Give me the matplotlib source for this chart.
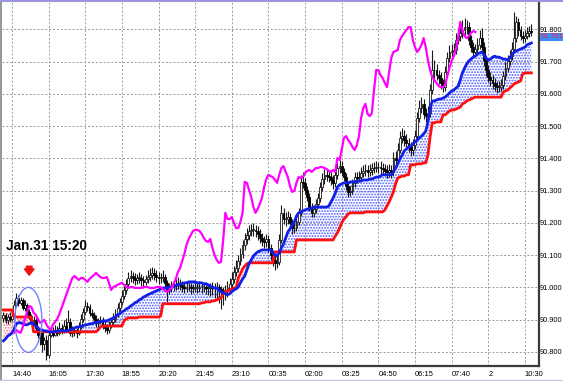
import numpy as np
import matplotlib
matplotlib.use("Agg")
import matplotlib.pyplot as plt
from matplotlib.patches import Ellipse
from matplotlib.lines import Line2D

# 5-minute bars, bar 0 = Jan.31 14:40
bars = np.arange(-4, 242)

opens = [
    90.905, 90.915, 90.899, 90.908, 90.902, 90.911, 90.946, 90.967, 90.952, 90.961,
    90.936, 90.946, 90.924, 90.911, 90.893, 90.899, 90.874, 90.853, 90.862, 90.825,
    90.837, 90.791, 90.853, 90.862, 90.853, 90.868, 90.859, 90.874, 90.865, 90.880,
    90.868, 90.893, 90.859, 90.868, 90.862, 90.859, 90.877, 90.902, 90.924, 90.942,
    90.939, 90.921, 90.915, 90.902, 90.890, 90.893, 90.899, 90.884, 90.874, 90.868,
    90.884, 90.893, 90.902, 90.918, 90.936, 90.955, 90.973, 90.992, 91.011, 91.029,
    91.035, 91.029, 91.023, 91.029, 91.029, 91.023, 91.017, 91.026, 91.032, 91.038,
    91.045, 91.038, 91.032, 91.029, 91.029, 91.032, 91.014, 90.992, 91.001, 91.004,
    91.008, 91.011, 91.014, 91.008, 91.001, 90.998, 91.001, 91.001, 90.998, 90.998,
    90.998, 90.998, 91.001, 91.001, 91.001, 90.998, 90.998, 90.998, 91.001, 91.001,
    91.001, 90.995, 90.989, 90.986, 90.992, 90.998, 91.011, 91.026, 91.048, 91.060,
    91.082, 91.104, 91.132, 91.150, 91.163, 91.175, 91.178, 91.178, 91.175, 91.166,
    91.153, 91.144, 91.141, 91.150, 91.122, 91.100, 91.085, 91.076, 91.079, 91.147,
    91.231, 91.212, 91.212, 91.218, 91.200, 91.184, 91.184, 91.203, 91.231, 91.327,
    91.324, 91.302, 91.280, 91.249, 91.231, 91.243, 91.259, 91.277, 91.311, 91.336,
    91.349, 91.345, 91.342, 91.333, 91.324, 91.349, 91.370, 91.376, 91.358, 91.342,
    91.314, 91.296, 91.299, 91.324, 91.342, 91.339, 91.342, 91.355, 91.361, 91.364,
    91.358, 91.364, 91.370, 91.370, 91.373, 91.373, 91.370, 91.367, 91.361, 91.358,
    91.364, 91.358, 91.401, 91.395, 91.426, 91.463, 91.469, 91.457, 91.448, 91.435,
    91.426, 91.441, 91.469, 91.525, 91.556, 91.569, 91.538, 91.531, 91.541, 91.612,
    91.674, 91.674, 91.658, 91.649, 91.634, 91.621, 91.668, 91.711, 91.730, 91.733,
    91.736, 91.767, 91.779, 91.789, 91.798, 91.807, 91.807, 91.767, 91.745, 91.730,
    91.739, 91.752, 91.773, 91.745, 91.705, 91.674, 91.652, 91.643, 91.634, 91.624,
    91.621, 91.621, 91.628, 91.655, 91.680, 91.702, 91.717, 91.739, 91.773, 91.823,
    91.798, 91.779, 91.773, 91.779, 91.789, 91.795,
]
highs = [
    90.924, 90.921, 90.918, 90.924, 90.921, 90.961, 90.983, 90.977, 90.970, 90.967,
    90.961, 90.952, 90.933, 90.918, 90.911, 90.905, 90.880, 90.871, 90.868, 90.846,
    90.853, 90.868, 90.874, 90.877, 90.884, 90.880, 90.893, 90.887, 90.899, 90.905,
    90.930, 90.905, 90.880, 90.877, 90.874, 90.893, 90.918, 90.936, 90.961, 90.955,
    90.949, 90.933, 90.924, 90.915, 90.905, 90.911, 90.908, 90.896, 90.887, 90.896,
    90.905, 90.921, 90.933, 90.952, 90.967, 90.992, 91.008, 91.026, 91.048, 91.054,
    91.048, 91.045, 91.042, 91.048, 91.042, 91.035, 91.038, 91.054, 91.060, 91.063,
    91.060, 91.054, 91.048, 91.045, 91.054, 91.042, 91.023, 91.014, 91.020, 91.023,
    91.026, 91.032, 91.026, 91.020, 91.014, 91.017, 91.020, 91.014, 91.011, 91.017,
    91.014, 91.020, 91.017, 91.014, 91.017, 91.011, 91.014, 91.017, 91.014, 91.017,
    91.011, 91.004, 91.001, 91.008, 91.020, 91.029, 91.048, 91.066, 91.085, 91.101,
    91.122, 91.147, 91.169, 91.184, 91.194, 91.197, 91.200, 91.194, 91.190, 91.181,
    91.169, 91.159, 91.166, 91.163, 91.135, 91.116, 91.101, 91.097, 91.166, 91.256,
    91.246, 91.234, 91.237, 91.231, 91.212, 91.203, 91.218, 91.246, 91.349, 91.358,
    91.339, 91.314, 91.293, 91.262, 91.256, 91.274, 91.293, 91.327, 91.355, 91.367,
    91.364, 91.361, 91.358, 91.349, 91.364, 91.386, 91.395, 91.392, 91.370, 91.355,
    91.327, 91.314, 91.336, 91.358, 91.358, 91.361, 91.373, 91.380, 91.383, 91.380,
    91.383, 91.386, 91.389, 91.392, 91.389, 91.392, 91.386, 91.383, 91.380, 91.383,
    91.380, 91.420, 91.423, 91.448, 91.485, 91.494, 91.488, 91.476, 91.463, 91.451,
    91.460, 91.488, 91.544, 91.581, 91.590, 91.584, 91.556, 91.562, 91.631, 91.736,
    91.705, 91.693, 91.674, 91.668, 91.646, 91.686, 91.730, 91.752, 91.755, 91.758,
    91.789, 91.804, 91.817, 91.829, 91.835, 91.829, 91.823, 91.783, 91.761, 91.755,
    91.773, 91.798, 91.804, 91.761, 91.721, 91.690, 91.668, 91.658, 91.649, 91.640,
    91.640, 91.646, 91.671, 91.699, 91.721, 91.736, 91.761, 91.854, 91.841, 91.835,
    91.810, 91.795, 91.798, 91.807, 91.810, 91.816,
]
lows = [
    90.893, 90.890, 90.887, 90.893, 90.896, 90.905, 90.939, 90.942, 90.946, 90.930,
    90.927, 90.915, 90.902, 90.887, 90.880, 90.865, 90.843, 90.822, 90.800, 90.806,
    90.775, 90.781, 90.846, 90.846, 90.849, 90.849, 90.853, 90.856, 90.859, 90.862,
    90.862, 90.849, 90.846, 90.849, 90.843, 90.853, 90.871, 90.893, 90.918, 90.927,
    90.911, 90.905, 90.893, 90.877, 90.877, 90.887, 90.871, 90.862, 90.856, 90.859,
    90.874, 90.884, 90.893, 90.908, 90.927, 90.946, 90.964, 90.980, 91.001, 91.017,
    91.014, 91.008, 91.011, 91.014, 91.004, 90.998, 91.008, 91.014, 91.020, 91.026,
    91.023, 91.017, 91.011, 91.014, 91.017, 90.998, 90.955, 90.980, 90.986, 90.989,
    90.992, 90.995, 90.992, 90.986, 90.983, 90.986, 90.989, 90.980, 90.983, 90.986,
    90.983, 90.986, 90.983, 90.986, 90.980, 90.977, 90.973, 90.977, 90.967, 90.961,
    90.952, 90.933, 90.946, 90.961, 90.970, 90.986, 90.998, 91.014, 91.035, 91.048,
    91.070, 91.091, 91.116, 91.135, 91.147, 91.159, 91.159, 91.156, 91.147, 91.138,
    91.128, 91.122, 91.125, 91.110, 91.085, 91.066, 91.054, 91.060, 91.070, 91.138,
    91.197, 91.190, 91.197, 91.184, 91.166, 91.169, 91.175, 91.194, 91.221, 91.308,
    91.290, 91.268, 91.237, 91.218, 91.218, 91.231, 91.249, 91.265, 91.299, 91.321,
    91.330, 91.327, 91.318, 91.305, 91.311, 91.336, 91.355, 91.345, 91.330, 91.302,
    91.280, 91.283, 91.290, 91.311, 91.324, 91.327, 91.333, 91.342, 91.345, 91.342,
    91.345, 91.349, 91.355, 91.358, 91.355, 91.352, 91.349, 91.345, 91.339, 91.342,
    91.339, 91.345, 91.380, 91.386, 91.417, 91.448, 91.438, 91.432, 91.420, 91.407,
    91.411, 91.429, 91.457, 91.513, 91.541, 91.522, 91.513, 91.516, 91.528, 91.600,
    91.649, 91.643, 91.631, 91.615, 91.606, 91.609, 91.655, 91.699, 91.714, 91.717,
    91.724, 91.755, 91.764, 91.773, 91.783, 91.786, 91.752, 91.730, 91.714, 91.717,
    91.727, 91.739, 91.730, 91.686, 91.655, 91.637, 91.624, 91.615, 91.609, 91.603,
    91.606, 91.609, 91.615, 91.643, 91.668, 91.690, 91.705, 91.727, 91.761, 91.779,
    91.767, 91.758, 91.761, 91.770, 91.776, 91.779,
]
closes = [
    90.915, 90.899, 90.908, 90.902, 90.911, 90.946, 90.967, 90.952, 90.961, 90.936,
    90.946, 90.924, 90.911, 90.893, 90.899, 90.874, 90.853, 90.862, 90.825, 90.837,
    90.791, 90.853, 90.862, 90.853, 90.868, 90.859, 90.874, 90.865, 90.880, 90.868,
    90.893, 90.859, 90.868, 90.862, 90.859, 90.877, 90.902, 90.924, 90.942, 90.939,
    90.921, 90.915, 90.902, 90.890, 90.893, 90.899, 90.884, 90.874, 90.868, 90.884,
    90.893, 90.902, 90.918, 90.936, 90.955, 90.973, 90.992, 91.011, 91.029, 91.035,
    91.029, 91.023, 91.029, 91.029, 91.023, 91.017, 91.026, 91.032, 91.038, 91.045,
    91.038, 91.032, 91.029, 91.029, 91.032, 91.014, 90.992, 91.001, 91.004, 91.008,
    91.011, 91.014, 91.008, 91.001, 90.998, 91.001, 91.001, 90.998, 90.998, 90.998,
    90.998, 91.001, 91.001, 91.001, 90.998, 90.998, 90.998, 91.001, 91.001, 91.001,
    90.995, 90.989, 90.986, 90.992, 90.998, 91.011, 91.026, 91.048, 91.060, 91.082,
    91.104, 91.132, 91.150, 91.163, 91.175, 91.178, 91.178, 91.175, 91.166, 91.153,
    91.144, 91.141, 91.150, 91.122, 91.100, 91.085, 91.076, 91.079, 91.147, 91.231,
    91.212, 91.212, 91.218, 91.200, 91.184, 91.184, 91.203, 91.231, 91.327, 91.324,
    91.302, 91.280, 91.249, 91.231, 91.243, 91.259, 91.277, 91.311, 91.336, 91.349,
    91.345, 91.342, 91.333, 91.324, 91.349, 91.370, 91.376, 91.358, 91.342, 91.314,
    91.296, 91.299, 91.324, 91.342, 91.339, 91.342, 91.355, 91.361, 91.364, 91.358,
    91.364, 91.370, 91.370, 91.373, 91.373, 91.370, 91.367, 91.361, 91.358, 91.364,
    91.358, 91.401, 91.395, 91.426, 91.463, 91.469, 91.457, 91.448, 91.435, 91.426,
    91.441, 91.469, 91.525, 91.556, 91.569, 91.538, 91.531, 91.541, 91.612, 91.674,
    91.674, 91.658, 91.649, 91.634, 91.621, 91.668, 91.711, 91.730, 91.733, 91.736,
    91.767, 91.779, 91.789, 91.798, 91.807, 91.807, 91.767, 91.745, 91.730, 91.739,
    91.752, 91.773, 91.745, 91.705, 91.674, 91.652, 91.643, 91.634, 91.624, 91.621,
    91.621, 91.628, 91.655, 91.680, 91.702, 91.717, 91.739, 91.773, 91.823, 91.798,
    91.779, 91.773, 91.779, 91.789, 91.795, 91.792,
]
# cloud lines (blue = span A, red = span B)
blue_line = [
    90.834, 90.840, 90.849, 90.853, 90.859, 90.871, 90.887, 90.890, 90.890, 90.887,
    90.884, 90.884, 90.887, 90.890, 90.887, 90.880, 90.874, 90.868, 90.868, 90.865,
    90.865, 90.862, 90.862, 90.862, 90.862, 90.865, 90.865, 90.865, 90.865, 90.865,
    90.865, 90.868, 90.871, 90.874, 90.877, 90.877, 90.880, 90.880, 90.884, 90.884,
    90.887, 90.887, 90.890, 90.890, 90.893, 90.893, 90.896, 90.896, 90.896, 90.899,
    90.902, 90.905, 90.908, 90.915, 90.918, 90.924, 90.927, 90.933, 90.936, 90.942,
    90.946, 90.952, 90.955, 90.961, 90.964, 90.970, 90.973, 90.977, 90.980, 90.983,
    90.986, 90.989, 90.992, 90.995, 90.998, 90.998, 90.998, 91.001, 91.001, 91.004,
    91.004, 91.008, 91.011, 91.011, 91.014, 91.014, 91.017, 91.017, 91.017, 91.017,
    91.014, 91.014, 91.014, 91.011, 91.011, 91.008, 91.004, 91.001, 90.998, 90.998,
    90.992, 90.986, 90.983, 90.980, 90.977, 90.980, 90.986, 90.992, 90.995, 91.001,
    91.014, 91.026, 91.035, 91.054, 91.073, 91.085, 91.097, 91.104, 91.110, 91.113,
    91.116, 91.116, 91.116, 91.116, 91.116, 91.107, 91.100, 91.097, 91.107, 91.122,
    91.135, 91.153, 91.172, 91.181, 91.194, 91.203, 91.221, 91.231, 91.234, 91.237,
    91.240, 91.243, 91.243, 91.246, 91.249, 91.249, 91.249, 91.249, 91.249, 91.249,
    91.249, 91.252, 91.265, 91.277, 91.293, 91.311, 91.318, 91.321, 91.324, 91.324,
    91.324, 91.327, 91.327, 91.327, 91.330, 91.330, 91.330, 91.333, 91.333, 91.333,
    91.336, 91.336, 91.339, 91.342, 91.342, 91.345, 91.349, 91.349, 91.349, 91.349,
    91.349, 91.358, 91.370, 91.383, 91.398, 91.410, 91.423, 91.429, 91.435, 91.438,
    91.445, 91.451, 91.457, 91.463, 91.469, 91.476, 91.485, 91.513, 91.553, 91.578,
    91.578, 91.581, 91.584, 91.584, 91.587, 91.590, 91.596, 91.603, 91.609, 91.612,
    91.618, 91.624, 91.643, 91.665, 91.680, 91.693, 91.702, 91.708, 91.714, 91.717,
    91.724, 91.727, 91.730, 91.721, 91.711, 91.705, 91.708, 91.714, 91.717, 91.714,
    91.714, 91.711, 91.708, 91.708, 91.705, 91.711, 91.721, 91.730, 91.733, 91.736,
    91.739, 91.742, 91.745, 91.752, 91.755, 91.758,
]
red_line = [
    90.930, 90.930, 90.930, 90.930, 90.930, 90.908, 90.908, 90.908, 90.908, 90.908,
    90.908, 90.908, 90.908, 90.908, 90.862, 90.862, 90.862, 90.862, 90.862, 90.862,
    90.862, 90.862, 90.862, 90.862, 90.862, 90.862, 90.862, 90.862, 90.862, 90.862,
    90.862, 90.862, 90.862, 90.862, 90.862, 90.862, 90.862, 90.862, 90.862, 90.862,
    90.862, 90.862, 90.862, 90.862, 90.868, 90.877, 90.880, 90.880, 90.880, 90.880,
    90.880, 90.880, 90.880, 90.880, 90.880, 90.880, 90.896, 90.902, 90.905, 90.905,
    90.905, 90.905, 90.905, 90.908, 90.908, 90.908, 90.908, 90.908, 90.908, 90.908,
    90.908, 90.908, 90.908, 90.911, 90.949, 90.949, 90.949, 90.949, 90.949, 90.949,
    90.949, 90.949, 90.949, 90.949, 90.949, 90.949, 90.949, 90.949, 90.949, 90.949,
    90.949, 90.949, 90.952, 90.952, 90.955, 90.955, 90.955, 90.958, 90.958, 90.961,
    90.964, 90.967, 90.980, 90.986, 90.989, 90.992, 90.995, 90.998, 90.998, 91.029,
    91.042, 91.057, 91.066, 91.073, 91.076, 91.076, 91.076, 91.076, 91.076, 91.076,
    91.076, 91.076, 91.076, 91.076, 91.076, 91.076, 91.110, 91.110, 91.110, 91.110,
    91.110, 91.110, 91.110, 91.110, 91.110, 91.110, 91.147, 91.147, 91.147, 91.147,
    91.147, 91.147, 91.147, 91.147, 91.147, 91.147, 91.147, 91.147, 91.147, 91.147,
    91.147, 91.147, 91.147, 91.147, 91.159, 91.169, 91.184, 91.200, 91.212, 91.218,
    91.228, 91.231, 91.231, 91.231, 91.231, 91.231, 91.231, 91.231, 91.234, 91.234,
    91.234, 91.234, 91.234, 91.234, 91.234, 91.234, 91.234, 91.240, 91.252, 91.265,
    91.280, 91.296, 91.321, 91.339, 91.342, 91.345, 91.345, 91.349, 91.349, 91.380,
    91.380, 91.380, 91.383, 91.383, 91.383, 91.386, 91.386, 91.410, 91.466, 91.510,
    91.510, 91.513, 91.513, 91.513, 91.535, 91.535, 91.541, 91.547, 91.550, 91.550,
    91.553, 91.556, 91.559, 91.569, 91.572, 91.578, 91.581, 91.584, 91.587, 91.590,
    91.590, 91.590, 91.590, 91.590, 91.590, 91.590, 91.590, 91.590, 91.590, 91.590,
    91.590, 91.590, 91.606, 91.609, 91.612, 91.618, 91.624, 91.631, 91.634, 91.637,
    91.640, 91.662, 91.665, 91.665, 91.665, 91.665,
]
chikou_shift = 26

time_ticks = [0, 17, 34, 51, 68, 85, 102, 119, 136, 153, 170, 187, 204, 221, 238]
time_labels = ["14:40", "16:05", "17:30", "18:55", "20:20", "21:45", "23:10", "00:35",
               "02:00", "03:25", "04:50", "06:15", "07:40", "2", "10:30"]
price_ticks = [90.8, 90.9, 91.0, 91.1, 91.2, 91.3, 91.4, 91.5, 91.6, 91.7, 91.8]
last_price_label = "91.761"
last_price_level = 91.779
event_bar = 8  # Jan.31 15:20

small_font = ["Liberation Sans", "DejaVu Sans"]

W, H = 563, 381
fig = plt.figure(figsize=(W / 100, H / 100), dpi=100)
ax = fig.add_axes([2 / W, 15 / H, 537 / W, 364 / H])
ax.set_xlim(-4.64, 244.55)
ax.set_ylim(90.756, 91.885)

# grid
ax.set_xticks(time_ticks)
ax.set_xticklabels(time_labels, family=small_font, fontsize=5.4, ha="left")
ax.set_yticks(price_ticks)
ax.set_yticklabels([f"{p:.3f}" for p in price_ticks], family=small_font, fontsize=5.3)
ax.yaxis.tick_right()
ax.tick_params(axis="x", length=0, pad=3.5)
ax.tick_params(axis="y", length=0, pad=0.8)
ax.grid(True, color="#9a9a9a", linestyle=(0, (2, 2)), linewidth=0.7)
ax.set_axisbelow(True)
for side in ["top", "left"]:
    ax.spines[side].set_visible(False)
for side in ["right", "bottom"]:
    ax.spines[side].set_color("#3a3a3a")
    ax.spines[side].set_linewidth(1.6)

o = np.array(opens)
h = np.array(highs)
l = np.array(lows)
c = np.array(closes)
span_a = np.array(blue_line)
span_b = np.array(red_line)

# cloud
plt.rcParams["hatch.linewidth"] = 0.9
ax.fill_between(bars, span_a, span_b, where=span_a >= span_b, interpolate=True,
                facecolor="none", edgecolor="#4a5cff", hatch="......", linewidth=0, zorder=1)
ax.fill_between(bars, span_a, span_b, where=span_a < span_b, interpolate=True,
                facecolor="none", edgecolor="#ff6a8a", hatch="......", linewidth=0, zorder=1)

# candles
up = c >= o
ax.vlines(bars, l, h, color="#1a1a1a", linewidth=0.8, zorder=2)
body_bottom = np.minimum(o, c)
body_height = np.maximum(np.abs(c - o), 0.0015)
ax.bar(bars[up], body_height[up], bottom=body_bottom[up], width=0.85,
       facecolor="white", edgecolor="#1a1a1a", linewidth=0.6, zorder=2)
ax.bar(bars[~up], body_height[~up], bottom=body_bottom[~up], width=0.85,
       facecolor="black", edgecolor="black", linewidth=0.6, zorder=2)

# lines
ax.plot(bars, span_b, color="#ff1010", linewidth=2.0, zorder=3)
ax.plot(bars, span_a, color="#1020e8", linewidth=2.0, zorder=3)
ax.plot(bars[4 + chikou_shift + 1:] - chikou_shift, c[4 + chikou_shift + 1:],
        color="#ff00ff", linewidth=1.6, zorder=4)

# annotation: circle, arrow, date text
ax.add_patch(Ellipse((event_bar - 0.4, 90.899), width=12.5, height=0.2015,
                     facecolor="none", edgecolor="#6f82ff", linewidth=1.0, zorder=5))
ax.annotate("", xy=(event_bar, 91.029), xytext=(event_bar, 91.074),
            arrowprops=dict(arrowstyle="simple,head_length=0.45,head_width=0.7,tail_width=0.4",
                            facecolor="#ee1111", edgecolor="#ee1111", mutation_scale=10),
            zorder=6)
fig.text(6 / W, 1 - 246 / H, "Jan.31 15:20", family=small_font, fontsize=9.8,
         fontweight="bold", va="center", ha="left", color="black")

# last price box
ax.annotate(last_price_label, xy=(1, last_price_level), xycoords=("axes fraction", "data"),
            xytext=(1.2, -0.5), textcoords="offset points", va="center", ha="left",
            family=small_font, fontsize=5.3, color="#ff2020",
            bbox=dict(boxstyle="square,pad=0.05", facecolor="#3c8cff", edgecolor="none"))

# window frame
fig.add_artist(Line2D([0.5 / W, 0.5 / W], [0, 1], color="#7a8a7a", linewidth=1.2))
fig.add_artist(Line2D([0, 1], [1 - 0.5 / H, 1 - 0.5 / H], color="#9b95e0", linewidth=1.5))
fig.add_artist(Line2D([0, 1], [1.5 / H, 1.5 / H], color="#c8c4f0", linewidth=1.0))

fig.savefig("out.png", dpi=100)
